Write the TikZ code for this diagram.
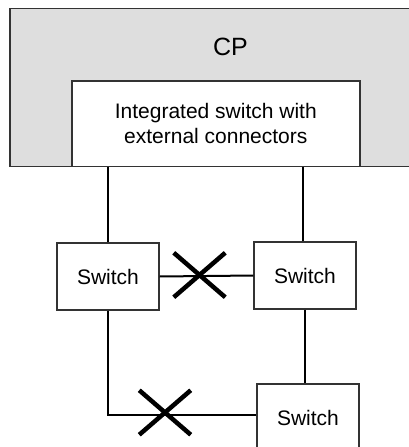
\documentclass[tikz,border=0pt]{standalone}
\usepackage{fontspec}
\setmainfont{Liberation Sans}
\usetikzlibrary{shapes.misc}
\definecolor{cpgray}{HTML}{DEDEDE}
\definecolor{edge}{HTML}{333333}
\begin{document}
\begin{tikzpicture}[x=1pt,y=-1pt,
  every node/.style={font=\fontsize{21}{25}\selectfont},
  cpbox/.style={draw=edge, fill=cpgray, line width=1.6pt, inner sep=0pt},
  innerbox/.style={draw=edge, fill=white, line width=1.6pt, inner sep=0pt, align=center},
  swbox/.style={draw=edge, fill=white, line width=1.3pt, inner sep=0pt,
    minimum width=102pt, minimum height=67pt},
  link/.style={draw=black, line width=2pt},
  broken/.style={cross out, draw=black, line width=4.5pt, inner sep=0pt,
    minimum width=47pt, minimum height=40pt}]
\useasboundingbox (0,0) rectangle (409,447);
\clip (0,0) rectangle (409,447);
\fill[white] (0,0) rectangle (409,447);
% CP frame
\node[cpbox, anchor=north west, minimum width=443pt, minimum height=158pt] (cp) at (9,7.5) {};
\node[font=\fontsize{25}{30}\selectfont] (cplabel) at (230.5,47) {CP};
\node[innerbox, anchor=north west, minimum width=288pt, minimum height=85.5pt] (isw) at (71,80)
  {Integrated switch with\\external connectors};
% switches
\node[swbox] (swl) at (108,276.5) {Switch};
\node[swbox] (swr) at (305,275.5) {Switch};
\node[swbox] (swb) at (308,417.5) {Switch};
% crosses
\node[broken] (x1) at (199.5,275) {};
\node[broken] (x2) at (165,412.5) {};
% connectors
\draw[link] (swl.north) -- (swl.north |- isw.south);
\draw[link] ([xshift=-2pt]swr.north) -- ([xshift=-2pt]swr.north |- isw.south);
\draw[link] (swl.east) -- (swr.west);
\draw[link] (swl.south) |- ([yshift=2.5pt]swb.west);
\draw[link] (swr.south) -- ([xshift=-3pt]swb.north);
\end{tikzpicture}
\end{document}
